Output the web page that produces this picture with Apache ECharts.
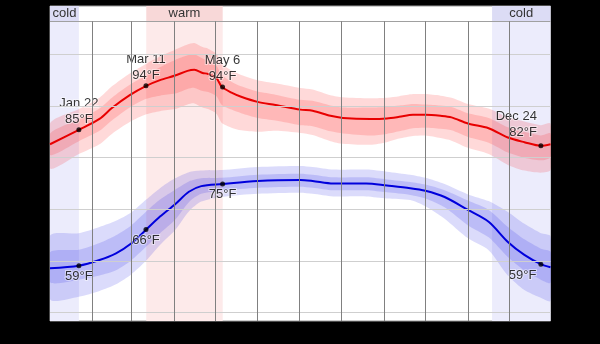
<!DOCTYPE html>
<html><head><meta charset="utf-8">
<script src="https://cdn.jsdelivr.net/npm/echarts@6/dist/echarts.min.js"></script>
<style>html,body{margin:0;padding:0;background:#000}#c{width:600px;height:344px}</style>
</head><body><div id="c"></div>
<script>
// ---- data (day of year, °F) ----
const highDays = [0,21,36,45,58,70,80,91,100,105,111,115,121,125,132,139,151,164,182,191,204,213,233,245,254,264,273,284,292,304,319,333,345,357,364];
const highMean = [82.6,85.4,87.5,89.6,92.1,93.9,95.0,95.9,96.8,97.0,96.4,96.2,95.4,93.7,92.6,91.8,90.8,90.2,89.3,89.1,88.1,87.7,87.5,87.6,87.9,88.3,88.3,88.1,87.8,86.6,85.7,83.9,83.0,82.3,82.6];
const highP90 = [86.6,89.4,91.6,93.8,96.3,98.2,99.6,100.9,101.9,102.2,101.4,101.1,100.1,98.2,96.9,96.0,95.0,94.4,93.5,93.2,92.1,91.7,91.5,91.6,91.9,92.3,92.3,92.0,91.6,90.4,89.5,87.8,87.0,86.3,86.6];
const highP75 = [84.7,87.4,89.5,91.6,94.1,95.9,97.5,98.9,99.8,100.0,99.2,98.8,97.8,96.0,94.7,93.8,92.8,92.2,91.2,91.0,90.1,89.7,89.7,89.8,90.1,90.4,90.3,90.1,89.8,88.6,87.7,85.9,85.0,84.3,84.7];
const highP25 = [80.5,83.2,85.2,87.2,89.7,91.4,92.0,92.4,93.3,93.5,92.9,92.7,91.9,90.2,89.3,88.6,87.7,87.2,86.3,86.1,85.1,84.7,84.3,84.6,85.1,85.7,85.8,85.6,85.3,84.0,82.9,81.0,80.0,79.5,80.1];
const highP10 = [77.9,80.7,82.6,84.6,86.9,88.4,89.0,89.4,90.3,90.5,89.7,89.4,88.5,86.7,85.8,85.3,85.0,85.2,84.8,84.4,83.2,82.7,82.5,83.0,83.7,84.2,84.3,83.8,83.3,81.9,80.7,78.6,77.5,77.1,77.6];

const lowDays = [0,21,36,48,59,70,80,91,101,110,125,151,182,191,206,230,245,262,273,287,304,319,333,345,357,364];
const lowMean = [58.6,59.1,60.2,61.5,63.4,66.1,68.6,71.0,73.4,74.5,74.9,75.5,75.7,75.5,75.0,75.0,74.6,74.1,73.6,72.4,69.9,67.6,63.7,61.2,59.4,58.8];
const lowP90 = [64.9,65.4,66.6,67.8,69.4,71.9,74.1,76.0,77.2,77.5,77.6,78.2,78.4,78.2,77.7,77.7,77.3,76.7,76.1,74.9,72.9,71.6,69.5,67.2,65.4,64.8];
const lowP75 = [61.7,62.2,63.5,65.0,66.9,69.6,71.9,73.8,75.4,76.0,76.1,76.7,76.9,76.7,76.2,76.2,75.8,75.3,74.8,73.7,71.7,69.9,66.6,64.2,62.4,61.8];
const lowP25 = [55.9,56.4,57.2,58.2,60.1,62.8,65.4,68.0,71.4,73.0,73.6,74.2,74.4,74.2,73.7,73.7,73.3,72.8,72.1,70.4,66.9,64.6,60.8,58.2,56.4,55.8];
const lowP10 = [52.6,53.1,54.2,55.5,57.4,60.1,63.1,66.0,69.6,71.5,72.4,73.0,73.2,73.0,72.5,72.5,72.1,71.8,70.6,68.2,64.4,62.1,57.2,54.4,52.9,52.3];

const markDays = [21, 69.8, 125.5, 357];
const highMarkVals = [85.4, 93.9, 93.7, 82.3];
const highMarkText = ['Jan 22\n85°F', 'Mar 11\n94°F', 'May 6\n94°F', 'Dec 24\n82°F'];
const lowMarkVals = [59.1, 66.1, 74.9, 59.4];
const lowMarkText = ['59°F', '66°F', '75°F', '59°F'];

const monthStarts = [31,59,90,120,151,181,212,243,273,304,334];
const gridTemps = [50,60,70,80,90,100];
const coldPeriods = [[0,21],[321.5,364]];
const warmPeriod = [70,125.6];
const seasonNames = ['cold','warm','cold'];

const yMin = 48.4, yMax = 109.35, headerBottom = 106.4, xMin = 0, xMax = 364;

// ---- build ----
const FONT = "'Liberation Sans', Arial, sans-serif";
const pairs = (xs, ys) => xs.map((x, i) => [x, ys[i]]);

const periods = [
  {r: coldPeriods[0], body: '#ececfc', head: '#dcdcf5', name: seasonNames[0]},
  {r: warmPeriod, body: '#fdeaea', head: '#f8d8d8', name: seasonNames[1]},
  {r: coldPeriods[1], body: '#ececfc', head: '#dcdcf5', name: seasonNames[2]}
];
const areaData = [];
periods.forEach(p => {
  areaData.push([{xAxis: p.r[0], yAxis: yMin, itemStyle: {color: p.body}}, {xAxis: p.r[1], yAxis: headerBottom}]);
  areaData.push([{xAxis: p.r[0], yAxis: headerBottom, itemStyle: {color: p.head},
    label: {show: true, position: 'inside', formatter: p.name, color: '#333', fontSize: 13, fontFamily: FONT}},
    {xAxis: p.r[1], yAxis: yMax}]);
});

const lineData = [];
gridTemps.forEach(t => lineData.push({yAxis: t, lineStyle: {color: '#cfcfcf', width: 1, type: 'solid'}}));
lineData.push({yAxis: headerBottom, lineStyle: {color: '#a0a0a0', width: 1, type: 'solid'}});
monthStarts.forEach(d => lineData.push([{coord: [d, yMin], lineStyle: {color: '#808080', width: 1, type: 'solid'}}, {coord: [d, headerBottom]}]));

function band(xs, lo, hi, color) {
  return {
    type: 'custom', silent: true, z: 2, clip: true,
    data: xs.map((x, i) => [x, lo[i], hi[i]]),
    encode: {x: 0, y: [1, 2]},
    renderItem: function (params, api) {
      if (params.dataIndex !== 0) return null;
      const top = xs.map((x, i) => api.coord([x, hi[i]]));
      const bot = xs.map((x, i) => api.coord([x, lo[i]])).reverse();
      return {type: 'polygon', shape: {points: top.concat(bot), smooth: 0.25}, style: {fill: color}};
    }
  };
}

function marks(vals, texts, below) {
  return markDays.map((d, i) => {
    const last = i === markDays.length - 1;
    let label;
    if (!below) {
      label = last ? {position: [-1.5, -2.5], align: 'right', verticalAlign: 'bottom'} : {position: 'top', distance: 0, align: 'center'};
    } else {
      label = last ? {position: [-2, 6], align: 'right', verticalAlign: 'top'} : {position: 'bottom', distance: 0, align: 'center'};
    }
    return {value: [d, vals[i]], label: Object.assign({show: true, formatter: texts[i]}, label)};
  });
}
const labelStyle = {color: '#000', fontSize: 13, lineHeight: 16, fontFamily: FONT,
  textBorderColor: 'rgba(255,255,255,0.6)', textBorderWidth: 2};

const option = {
  backgroundColor: '#000',
  animation: false,
  grid: {left: 50, top: 6, width: 500.5, height: 315, show: true, backgroundColor: '#fff', borderColor: '#9a9a9a', borderWidth: 1},
  xAxis: {type: 'value', min: xMin, max: xMax, axisLine: {show: false}, axisTick: {show: false}, axisLabel: {show: false}, splitLine: {show: false}},
  yAxis: {type: 'value', min: yMin, max: yMax, axisLine: {show: false}, axisTick: {show: false}, axisLabel: {show: false}, splitLine: {show: false}},
  series: [
    {type: 'line', data: [], z: 0, silent: true, markArea: {silent: true, data: areaData}},
    {type: 'line', data: [], z: 1, silent: true, markLine: {silent: true, symbol: 'none', label: {show: false}, data: lineData}},
    band(highDays, highP10, highP90, 'rgba(255,0,0,0.15)'),
    band(highDays, highP25, highP75, 'rgba(255,0,0,0.15)'),
    band(lowDays, lowP10, lowP90, 'rgba(30,30,230,0.16)'),
    band(lowDays, lowP25, lowP75, 'rgba(30,30,230,0.16)'),
    {type: 'line', data: pairs(highDays, highMean), symbol: 'none', smooth: 0.3, lineStyle: {color: '#e80000', width: 2}, z: 3},
    {type: 'line', data: pairs(lowDays, lowMean), symbol: 'none', smooth: 0.3, lineStyle: {color: '#0000dc', width: 2}, z: 3},
    {type: 'scatter', data: marks(highMarkVals, highMarkText, false), symbolSize: 5, itemStyle: {color: '#000'}, label: labelStyle, z: 4},
    {type: 'scatter', data: marks(lowMarkVals, lowMarkText, true), symbolSize: 5, itemStyle: {color: '#000'}, label: labelStyle, z: 4}
  ]
};
echarts.init(document.getElementById('c'), null, {renderer: 'canvas'}).setOption(option);
</script></body></html>
